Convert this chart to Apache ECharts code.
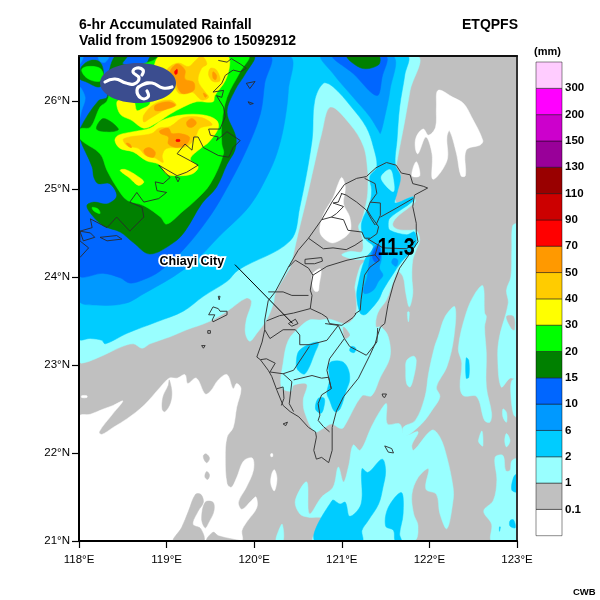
<!DOCTYPE html>
<html><head><meta charset="utf-8">
<style>html,body{margin:0;padding:0;background:#fff}#c{width:600px;height:600px}</style>
<script src="https://cdn.jsdelivr.net/npm/echarts@6/dist/echarts.min.js"></script>
</head><body><div id="c"></div>
<script>
const LON=[118,123], LAT=[21,26.51];
const lonTicks=[118,119,120,121,122,123];
const latTicks=[21,22,23,24,25,26];
const legendColors=['#ffffff','#c0c0c0','#99ffff','#00ccff','#0099ff','#0066ff','#008000','#00ff00','#ffff00','#ffcc00','#ff9900','#ff0000','#cc0000','#990000','#990099','#cc00cc','#ff00ff','#ffccff'];
const legendLabels=['','0.1','1','2','6','10','15','20','30','40','50','70','90','110','130','150','200','300',''];

const grayBase=[[[118,21],[123,21],[123,26.51],[118,26.51]]];
const whiteHoles=[
[[118,22.41],[118.13,22.44],[118.28,22.5],[118.39,22.54],[118.5,22.59],[118.39,22.45],[118.23,22.24],[118.26,22.21],[118.39,22.29],[118.55,22.39],[118.74,22.54],[118.93,22.75],[119.03,22.85],[119.12,22.85],[119.21,22.89],[119.24,22.79],[119.34,22.85],[119.44,22.67],[119.5,22.7],[119.59,22.83],[119.69,22.89],[119.76,22.73],[119.8,22.79],[119.85,22.73],[119.8,22.52],[119.76,22.29],[119.69,22.18],[119.67,21.95],[119.69,21.65],[119.74,21.61],[119.8,21.72],[119.88,21.91],[119.98,21.94],[119.99,21.8],[119.91,21.61],[119.82,21.44],[119.86,21.36],[119.97,21.46],[120.02,21.5],[120.03,21.38],[119.91,21.21],[119.86,21.12],[119.85,21],[118,21]],
[[120.23,21.81],[120.26,21.71],[120.23,21.57],[120.19,21.65],[120.2,21.76]],
[[120.19,21.99],[120.21,21.99],[120.21,21.96],[120.19,21.96]],
[[118.03,22.65],[118.09,22.65],[118.09,22.63],[118.03,22.63]],
[[122.1,26.12],[122.27,26.04],[122.39,25.97],[122.48,25.82],[122.61,25.55],[122.58,25.5],[122.42,25.44],[122.41,25.15],[122.36,25.15],[122.31,25.4],[122.23,25.66],[122.2,25.59],[122.2,25.32],[122.04,25.11],[122.03,25.4],[121.96,25.59],[121.87,25.4],[121.84,25.46],[121.85,25.59],[121.93,25.68],[121.99,25.61],[122.07,25.7],[122.08,25.93]],
[[121.8,25.15],[121.85,25.31],[121.89,25.15]],
[[121,25.13],[121.04,25.02],[121.02,24.83],[121.09,24.68],[121.09,24.51],[120.92,24.39],[120.83,24.41],[120.75,24.51],[120.79,24.71],[120.9,24.9],[120.96,25.06]],
[[120.67,24.04],[120.76,24.09],[120.74,23.9],[120.73,23.84],[120.69,23.84],[120.66,23.93]]
];
const grayIslands=[
[[119.03,22.83],[119.06,22.69],[119.04,22.56],[118.98,22.47],[118.95,22.5],[118.96,22.64],[119.02,22.77]],
[[119.45,21.99],[119.49,21.94],[119.46,21.89],[119.43,21.92],[119.42,21.97]],
[[119.46,21.79],[119.49,21.75],[119.47,21.7],[119.44,21.72],[119.44,21.76]],
[[119.08,21],[119.17,21.15],[119.25,21.34],[119.33,21.53],[119.39,21.53],[119.42,21.44],[119.36,21.34],[119.3,21.19],[119.39,21.14],[119.42,21]],
[[119.4,21.25],[119.44,21.44],[119.53,21.44],[119.54,21.34],[119.48,21.21],[119.44,21.15]],
[[119.46,21],[119.53,21.1],[119.59,21.06],[119.76,21.02],[119.85,21]]
];
const paleAreas=[
[[118,26.51],[121.85,26.51],[121.78,26.12],[121.72,25.78],[121.66,25.47],[121.62,25.25],[121.59,25.02],[121.6,24.9],[121.64,24.84],[121.81,24.91],[121.84,24.86],[121.78,24.8],[121.62,24.67],[121.58,24.59],[121.64,24.54],[121.78,24.53],[121.85,24.53],[121.89,24.42],[121.85,24.31],[121.81,24.19],[121.8,24],[121.81,23.81],[121.77,23.66],[121.73,23.82],[121.7,24],[121.64,24.06],[121.59,23.95],[121.51,23.74],[121.41,23.59],[121.39,23.43],[121.45,23.43],[121.53,23.32],[121.55,23.09],[121.44,22.86],[121.34,22.65],[121.23,22.65],[121.02,22.29],[120.98,22.28],[120.88,22.33],[120.79,22.28],[120.69,22.24],[120.58,22.45],[120.56,22.6],[120.6,22.78],[120.45,22.77],[120.42,22.7],[120.31,22.75],[120.33,23.02],[120.39,23.28],[120.52,23.43],[120.63,23.51],[120.75,23.51],[120.86,23.52],[121.06,23.47],[121.16,23.59],[121.16,23.81],[121.15,23.89],[121.21,24.12],[121.26,24.19],[121.14,24.2],[121,24.25],[121.09,24.29],[121.23,24.29],[121.23,24.46],[121.19,24.57],[121.23,24.65],[121.29,24.9],[121.3,25.1],[121.3,25.17],[121.25,25.48],[121.09,25.74],[120.87,25.93],[120.77,25.63],[120.68,25.25],[120.6,24.9],[120.5,24.49],[120.41,24.11],[120.37,24.04],[120.24,23.81],[120.22,23.7],[120.14,23.51],[120.03,23.36],[119.95,23.27],[119.9,23.36],[119.91,23.51],[119.97,23.72],[119.91,23.76],[119.69,23.61],[119.48,23.49],[119.23,23.4],[119.04,23.32],[118.81,23.24],[118.72,23.19],[118.62,23.24],[118.47,23.2],[118.28,23.11],[118.03,23.02],[118,23.08]],
[[120.47,21.46],[120.6,21.67],[120.63,21.31],[120.77,21.5],[120.9,21.61],[120.96,21.84],[121.02,21.67],[121.08,21.86],[121.13,22.09],[121.21,22.03],[121.34,22.3],[121.44,22.48],[121.51,22.56],[121.52,22.33],[121.66,22.33],[121.72,22.2],[121.87,22.24],[121.8,22.09],[121.82,22.03],[122.03,22.26],[122.12,22.18],[122.2,21.95],[122.27,21.61],[122.27,21.46],[122.2,21.14],[122.12,21.31],[122.08,21.53],[121.96,21.59],[121.99,21.82],[121.87,21.72],[121.8,21.53],[121.82,21.31],[121.87,21.17],[121.82,21],[120.68,21],[120.8,21.25],[120.72,21.27],[120.62,21.27],[120.52,21.31]],
[[122.33,23.19],[122.42,23.59],[122.52,23.81],[122.61,23.9],[122.63,23.59],[122.65,23.55],[122.63,23.43],[122.65,23.13],[122.65,22.75],[122.71,22.45],[122.69,22.35],[122.63,22.37],[122.54,22.64],[122.39,22.65],[122.35,22.75],[122.37,23.02]],
[[122.29,23.66],[122.28,23.32],[122.2,22.98],[122.08,22.75],[122.12,22.64],[122.04,22.5],[121.91,22.33],[121.72,22.19],[121.7,22.29],[121.84,22.37],[121.95,22.64],[121.99,22.9],[122.06,23.21],[122.1,23.32],[122.18,23.55]],
[[121.74,23.05],[121.82,23.1],[121.85,23.05],[121.82,22.86],[121.78,22.75],[121.74,22.79],[121.73,22.94]],
[[121.75,23.6],[121.77,23.6],[121.76,23.49]],
[[122.6,22.25],[122.61,22.08],[122.58,22.1],[122.56,22.14]],
[[122.88,22.22],[122.92,22.14],[122.88,22.07],[122.86,22.14]],
[[122.84,22.5],[122.88,22.46],[122.88,22.35],[122.84,22.41]],
[[122.95,24.58],[123,24.6],[123,22.85],[122.92,22.85],[122.82,22.75],[122.78,23.09],[122.8,23.32],[122.9,23.7],[122.88,23.85],[122.93,24],[122.94,24.3]],
[[122.94,22.82],[123,22.84],[123,22.41],[122.96,22.44],[122.93,22.67]],
[[122.75,21.95],[122.84,21.97],[122.87,21.8],[122.92,21.8],[122.94,21.91],[123,21.93],[123,21],[122.71,21],[122.71,21.19],[122.62,21.34],[122.73,21.46],[122.77,21.69]],
[[120.28,21.12],[120.32,21.19],[120.33,21],[120.25,21]]
];
const grayPatches=[
[[122.88,23.55],[122.96,23.55],[122.97,23.4],[122.94,23.41]],
[[121.02,23.43],[121.09,23.34],[121.04,23.3],[121.02,23.36]]
];
const skyAreas=[
[[118,26.51],[121.74,26.51],[121.72,26.3],[121.66,25.93],[121.63,25.55],[121.61,25.28],[121.67,25.14],[121.63,24.95],[121.61,24.84],[121.81,24.91],[121.81,24.86],[121.55,24.67],[121.53,24.59],[121.55,24.53],[121.74,24.48],[121.83,24.51],[121.85,24.38],[121.81,24.31],[121.68,24.17],[121.59,24.04],[121.47,23.85],[121.42,23.74],[121.32,23.62],[121.26,23.57],[121.21,23.59],[121.17,23.78],[121.19,23.93],[121.26,24.19],[121.36,24.34],[121.28,24.42],[121.23,24.51],[121.23,24.63],[121.32,24.84],[121.34,24.99],[121.32,25.14],[121.4,25.25],[121.36,25.48],[121.28,25.7],[121.11,25.93],[120.9,26.16],[120.79,26.2],[120.69,26],[120.66,25.55],[120.52,24.79],[120.41,24.41],[119.82,24.08],[119.69,23.95],[119.42,23.78],[119.19,23.61],[118.89,23.49],[118.55,23.36],[118.3,23.24],[118.26,23.28],[118.13,23.3],[118,23.3]],
[[120.52,23.17],[120.73,23.26],[120.69,23.13],[120.58,22.9],[120.5,22.94],[120.48,23.02]],
[[120.86,23.02],[121,23.04],[121.07,22.96],[121.09,22.83],[121.05,22.71],[120.98,22.5],[120.92,22.47],[120.86,22.6],[120.83,22.68],[120.86,22.83]],
[[120.73,22.62],[120.8,22.62],[120.79,22.5],[120.76,22.45],[120.7,22.5]],
[[121.11,23.21],[121.16,23.19],[121.14,23.14],[121.09,23.16]],
[[120.69,21],[120.89,21.46],[120.98,21.42],[121.04,21.44],[121.09,21.28],[121.22,21.42],[121.23,21.82],[121.3,21.78],[121.46,21.93],[121.5,21.8],[121.47,21.61],[121.42,21.42],[121.3,21.23],[121.23,21.12],[121.23,21]],
[[121.68,21.55],[121.7,21.31],[121.66,21.08],[121.68,21],[121.61,21],[121.59,21.12],[121.5,21.17],[121.53,21.38]],
[[122.42,23.08],[122.45,23.05],[122.45,22.86],[122.42,22.85]],
[[122.96,21.72],[123,21.76],[123,21.56],[122.94,21.58]],
[[122.92,21.23],[122.96,21.24],[122.98,21.15],[122.92,21.17]],
[[122.8,21.16],[122.81,21.16],[122.8,21.11]]
];
const paleHoles=[[[121.45,25.14],[121.55,25.22],[121.59,25.1],[121.59,24.97],[121.49,25.05]]];
const azureAreas=[
[[120.77,26.51],[121.58,26.51],[121.55,26.12],[121.49,25.82],[121.44,25.63],[121.42,25.66],[121.32,25.82],[121.13,26.04],[120.9,26.31]],
[[118,26.51],[120.39,26.51],[120.39,26.12],[120.35,25.78],[120.28,25.47],[120.18,25.21],[119.95,24.81],[119.61,24.47],[119.33,24.18],[119.19,24.08],[119.04,23.98],[118.74,23.81],[118.53,23.7],[118.2,23.68],[118,23.74]],
[[121.42,24.38],[121.45,24.29],[121.45,24.19],[121.43,24.1],[121.47,24.02],[121.42,23.95],[121.36,23.85],[121.26,23.81],[121.25,23.87],[121.29,24],[121.31,24.15],[121.35,24.31]],
[[121.59,24.21],[121.64,24.19],[121.62,24.12],[121.57,24.16]]
];
const blueAreas=[
[[118,26.51],[120.17,26.51],[120.12,26.2],[120.07,25.85],[119.91,25.44],[119.65,24.94],[119.46,24.64],[119.21,24.33],[118.93,24.07],[118.74,23.97],[118.58,23.93],[118.47,23.99],[118.28,24.04],[118,24.03]],
[[120.9,26.51],[121.13,26.31],[121.4,26.06],[121.46,26.27],[121.5,26.51]],
[[121.37,24.31],[121.42,24.36],[121.44,24.27],[121.43,24.19],[121.38,24.17],[121.35,24.23]]
];
const azurePatches=[
[[118,26.51],[118.05,26.51],[118.01,26.42]],
[[118.22,26.51],[118.34,26.51],[118.3,26.44],[118.24,26.45]],
[[118,26.16],[118.07,26.04],[118.03,25.89],[118,25.78]]
];
const dgreenAreas=[
[[118.41,26.51],[118.55,26.51],[118.5,26.42],[118.76,26.42],[118.83,26.51],[119.99,26.51],[119.9,26.31],[119.78,26.12],[119.69,25.87],[119.79,25.59],[119.78,25.44],[119.69,25.28],[119.57,25.02],[119.4,24.83],[119.21,24.52],[119.08,24.39],[118.81,24.26],[118.62,24.39],[118.47,24.51],[118.28,24.58],[118.15,24.7],[118.09,24.81],[118.17,24.85],[118.32,24.83],[118.43,24.92],[118.35,25.06],[118.22,25.06],[118.17,25.13],[118.15,25.25],[118.01,25.57],[118.01,25.68],[118.22,26],[118.32,26.04],[118.32,26.2]],
[[118.01,26.31],[118.03,26.39],[118.13,26.46],[118.24,26.44],[118.28,26.31],[118.24,26.16],[118.07,26.22],[118.01,26.25]],
[[121.06,26.51],[121.23,26.37],[121.42,26.41],[121.42,26.51]]
];
const greenAreas=[
[[118.93,26.51],[119.93,26.51],[119.84,26.33],[119.69,26.04],[119.63,25.74],[119.63,25.51],[119.65,25.4],[119.5,25.06],[119.33,24.87],[119.19,24.75],[119,24.6],[118.93,24.68],[118.74,24.81],[118.55,24.87],[118.43,25.02],[118.32,25.21],[118.24,25.4],[118.01,25.57],[118.01,25.68],[118.13,25.7],[118.24,25.93],[118.32,26],[118.43,26.31],[118.85,26.46]],
[[118.03,26.35],[118.09,26.39],[118.24,26.37],[118.28,26.27],[118.22,26.22],[118.09,26.26]],
[[118.15,24.79],[118.22,24.77],[118.24,24.72],[118.17,24.75]]
];
const dgreenPatches=[[[118.2,25.68],[118.28,25.8],[118.45,25.68],[118.36,25.65]]];
const yellowAreas=[
[[118.93,26.51],[119.69,26.51],[119.72,26.41],[119.67,26.23],[119.55,26.06],[119.53,25.99],[119.34,25.99],[119.19,25.93],[119.04,25.85],[118.87,25.74],[118.74,25.69],[118.6,25.78],[118.47,25.85],[118.44,26],[118.62,26],[118.66,25.89],[118.72,25.91],[118.81,25.97],[118.85,26.3],[118.87,26.44]],
[[118.41,25.55],[118.45,25.61],[118.62,25.65],[118.81,25.69],[118.95,25.78],[119.17,25.84],[119.42,25.84],[119.57,25.78],[119.59,25.69],[119.48,25.53],[119.4,25.47],[119.27,25.34],[119.36,25.25],[119.29,25.17],[119.12,25.15],[119,25.17],[118.91,25.28],[118.77,25.32],[118.62,25.42],[118.47,25.46]],
[[118.47,25.21],[118.53,25.22],[118.66,25.15],[118.74,25.08],[118.68,25.04],[118.57,25.13]]
];
const goldAreas=[
[[118.95,26.27],[119.04,26.39],[119.14,26.43],[119.25,26.39],[119.33,26.46],[119.4,26.51],[119.46,26.42],[119.4,26.37],[119.36,26.23],[119.44,26.1],[119.48,26.04],[119.4,26.01],[119.29,26.1],[119.15,26.08],[119.08,26.16],[119,26.12]],
[[119.5,26.37],[119.57,26.35],[119.61,26.23],[119.53,26.22],[119.48,26.29]],
[[118.87,25.97],[119.04,26.01],[119.11,25.95],[119,25.91],[118.81,25.8],[118.74,25.76],[118.74,25.84]],
[[118.51,25.57],[118.83,25.63],[118.91,25.69],[119.04,25.71],[119.19,25.81],[119.4,25.81],[119.52,25.73],[119.38,25.69],[119.33,25.59],[119.27,25.51],[119.19,25.47],[119,25.46],[118.95,25.38],[118.96,25.3],[118.87,25.35],[118.76,25.38],[118.68,25.46],[118.55,25.49]]
];
const orangeAreas=[
[[119.04,26.33],[119.12,26.42],[119.21,26.35],[119.21,26.25],[119.31,26.21],[119.31,26.12],[119.19,26.08],[119.13,26.14],[119.1,26.25]],
[[118.87,25.95],[119.02,25.99],[119.1,25.95],[118.98,25.9],[118.87,25.89]],
[[119.23,25.76],[119.29,25.8],[119.34,25.75],[119.29,25.7],[119.24,25.71]],
[[118.92,25.66],[119.02,25.69],[119.06,25.63],[119.15,25.63],[119.26,25.59],[119.23,25.51],[119.12,25.47],[119.02,25.51],[119.02,25.59],[118.93,25.63]],
[[118.74,25.44],[118.8,25.47],[118.87,25.42],[118.85,25.36],[118.77,25.38]],
[[118.54,25.52],[118.58,25.51],[118.6,25.47],[118.57,25.48]],
[[119.53,26.33],[119.57,26.29],[119.56,26.24],[119.53,26.26]],
[[119.42,26.09],[119.46,26.06],[119.44,26.04]]
];
const redAreas=[
[[119.09,26.33],[119.12,26.36],[119.12,26.31],[119.1,26.3]],
[[119.11,25.56],[119.15,25.56],[119.15,25.54],[119.11,25.54]]
];

const taiwanCoast=[[120.12,23.51],[120.16,23.73],[120.24,23.83],[120.39,24.11],[120.5,24.3],[120.62,24.44],[120.77,24.65],[120.9,24.87],[121.03,25.05],[121.17,25.12],[121.28,25.14],[121.39,25.24],[121.51,25.3],[121.62,25.27],[121.68,25.18],[121.78,25.16],[121.81,25.06],[121.93,25.03],[121.98,25.01],[121.83,24.93],[121.81,24.8],[121.85,24.61],[121.85,24.51],[121.87,24.4],[121.83,24.34],[121.66,24.1],[121.59,23.92],[121.53,23.7],[121.49,23.47],[121.44,23.43],[121.41,23.34],[121.38,23.24],[121.32,23.11],[121.19,22.85],[121.02,22.64],[120.94,22.48],[120.89,22.29],[120.89,22.03],[120.85,21.89],[120.77,21.95],[120.71,21.93],[120.68,22.03],[120.71,22.18],[120.7,22.24],[120.62,22.29],[120.51,22.41],[120.41,22.47],[120.33,22.54],[120.26,22.71],[120.2,22.87],[120.16,22.94],[120.07,23.06],[120.03,23.09],[120.09,23.26],[120.12,23.4],[120.12,23.51]];
const countyBorders=[
[[120.99,24.95],[121.05,24.93],[121.17,24.85],[121.28,24.76],[121.34,24.65],[121.38,24.59]],
[[121.26,25.12],[121.38,25.06],[121.4,24.95],[121.32,24.84],[121.29,24.76],[121.34,24.68],[121.42,24.57],[121.4,24.49],[121.3,24.42]],
[[121.32,24.85],[121.44,24.84],[121.44,24.7],[121.39,24.59]],
[[121.44,24.68],[121.62,24.78],[121.81,24.89]],
[[121,24.95],[120.96,24.85],[120.9,24.84],[121.02,24.8],[120.94,24.72],[120.88,24.68],[120.77,24.65]],
[[120.88,24.68],[121.02,24.65],[121.07,24.53],[121.23,24.51],[121.26,24.44],[121.32,24.44]],
[[120.62,24.44],[120.79,24.32],[120.9,24.33],[121.05,24.31],[121.15,24.36],[121.24,24.42]],
[[121.3,24.43],[121.47,24.33],[121.74,24.32],[121.84,24.41]],
[[120.83,24.12],[121.06,24.19],[121.26,24.23],[121.38,24.25],[121.42,24.38]],
[[121.38,24.25],[121.43,24.19],[121.32,24.11],[121.26,24.02],[121.24,23.89],[121.22,23.74],[121.21,23.62],[121.15,23.58]],
[[120.39,24.11],[120.47,24.19],[120.62,24.1],[120.67,24.02],[120.83,24.12]],
[[120.58,24.2],[120.77,24.22],[120.78,24.18],[120.69,24.15],[120.58,24.15],[120.58,24.2]],
[[120.67,24.02],[120.64,23.85],[120.66,23.79],[120.64,23.64],[120.77,23.58],[120.83,23.54],[120.86,23.47],[121,23.45],[121.13,23.54],[121.16,23.58]],
[[120.16,23.83],[120.33,23.83],[120.43,23.79],[120.62,23.79]],
[[120.14,23.5],[120.29,23.56],[120.45,23.59],[120.64,23.64]],
[[120.39,23.47],[120.47,23.52],[120.5,23.47],[120.43,23.44],[120.39,23.47]],
[[120.12,23.4],[120.18,23.3],[120.33,23.4],[120.47,23.4],[120.52,23.34],[120.52,23.23],[120.64,23.23],[120.83,23.28],[120.96,23.45],[120.81,23.47]],
[[120.07,23.06],[120.14,23.07],[120.24,23.02],[120.18,22.92],[120.33,22.9],[120.45,22.94],[120.63,23.21]],
[[120.45,22.83],[120.66,22.88],[120.77,22.85],[120.85,22.86],[120.88,22.73],[120.77,22.66],[120.73,22.56],[120.75,22.43],[120.73,22.37],[120.79,22.3],[120.86,22.24]],
[[120.33,22.9],[120.43,22.81],[120.4,22.56],[120.45,22.47]],
[[120.88,22.73],[120.83,22.94],[120.86,23.07],[121.03,23.3],[121.09,23.21],[121.28,23.11],[121.4,23.26],[121.41,23.42]],
[[121.03,23.3],[120.96,23.45]],
[[120.26,22.73],[120.33,22.75],[120.34,22.62],[120.31,22.54]]
];
const islands=[
[[120.33,22.33],[120.38,22.35],[120.36,22.31],[120.33,22.33]],
[[121.46,22.67],[121.51,22.67],[121.49,22.63],[121.47,22.64],[121.46,22.67]],
[[121.49,22.08],[121.57,22.05],[121.59,22],[121.53,22.01],[121.49,22.08]],
[[119.48,23.57],[119.53,23.66],[119.59,23.64],[119.61,23.61],[119.69,23.61],[119.69,23.57],[119.61,23.53],[119.53,23.49],[119.52,23.51],[119.55,23.57],[119.48,23.57]],
[[119.47,23.39],[119.5,23.39],[119.5,23.36],[119.47,23.36],[119.47,23.39]],
[[119.4,23.22],[119.44,23.22],[119.42,23.19],[119.4,23.22]],
[[119.59,23.78],[119.61,23.78],[119.6,23.74],[119.59,23.78]],
[[119.91,26.2],[120.01,26.22],[119.95,26.14],[119.91,26.2]],
[[119.93,25.99],[119.99,25.97],[119.95,25.96],[119.93,25.99]],
[[118.24,24.45],[118.43,24.47],[118.49,24.43],[118.32,24.41],[118.24,24.45]],
[[118.01,24.52],[118.13,24.5],[118.18,24.45],[118.05,24.41],[118.01,24.52]],
[[119.1,25.14],[119.15,25.12],[119.13,25.08],[119.1,25.14]]
];
const fujianCoast=[[119.59,26.46],[119.69,26.44],[119.74,26.48],[119.84,26.42],[119.91,26.37],[119.84,26.33],[119.76,26.35],[119.67,26.29],[119.63,26.2],[119.53,26.1],[119.65,26.12],[119.63,26.04],[119.57,26.06],[119.65,25.93],[119.67,25.82],[119.61,25.68],[119.48,25.68],[119.5,25.61],[119.59,25.59],[119.57,25.55],[119.69,25.65],[119.84,25.55],[119.76,25.47],[119.71,25.36],[119.59,25.38],[119.42,25.47],[119.36,25.59],[119.31,25.59],[119.29,25.44],[119.21,25.51],[119.12,25.4],[119.27,25.32],[119.36,25.27],[119.23,25.19],[119.12,25.15],[118.91,25.27],[118.98,25.19],[119.04,25.13],[118.96,25.06],[118.87,25.08],[118.89,24.98],[119,24.96],[118.91,24.89],[118.74,24.85],[118.66,24.96],[118.58,24.85],[118.72,24.79],[118.74,24.68],[118.58,24.52],[118.43,24.68],[118.32,24.56],[118.13,24.66],[118.15,24.56],[118.01,24.52],[118.01,24.41],[118.11,24.33],[118.01,24.22]];
const leaderLine=[[119.78,24.14],[120.44,23.47]];
const cityLabel={name:'Chiayi City',lon:118.92,lat:24.17};
const maxLabel={value:'11.3',lon:121.62,lat:24.32};

const chart=echarts.init(document.getElementById('c'),null,{renderer:'canvas'});
const GX=79,GY=56,GW=438,GH=485;
function area(polys,color,sm){
  return {type:'custom',coordinateSystem:'cartesian2d',xAxisIndex:0,yAxisIndex:0,clip:true,silent:true,
    data:polys.map((_,i)=>[i]),encode:{},
    renderItem:(p,api)=>({type:'polygon',shape:{points:polys[p.dataIndex].map(c=>api.coord(c)),smooth:sm===undefined?0.35:sm},style:{fill:color,stroke:color,lineWidth:0.5}})};
}
function lines(list,color,w){
  return {type:'custom',coordinateSystem:'cartesian2d',xAxisIndex:0,yAxisIndex:0,clip:true,silent:true,
    data:list.map((_,i)=>[i]),encode:{},
    renderItem:(p,api)=>({type:'polyline',shape:{points:list[p.dataIndex].map(c=>api.coord(c))},style:{fill:null,stroke:color,lineWidth:w}})};
}
function label(o,text,font,halo,sx){
  return {type:'custom',coordinateSystem:'cartesian2d',xAxisIndex:0,yAxisIndex:0,clip:false,silent:true,z:8,
    data:[[0]],encode:{},
    renderItem:(p,api)=>{const c=api.coord([o.lon,o.lat]);return {type:'text',x:c[0],y:c[1],scaleX:sx||1,style:{text:text,font:font,fill:'#000',align:halo?'left':'center',verticalAlign:'middle',stroke:halo?'#fff':null,lineWidth:halo?3.5:0}};}};
}
const legendSeries={type:'custom',coordinateSystem:'cartesian2d',xAxisIndex:2,yAxisIndex:2,clip:false,silent:true,
  data:legendColors.map((_,i)=>[i]),encode:{},
  renderItem:(p,api)=>{const a=api.coord([0,p.dataIndex+1]),b=api.coord([1,p.dataIndex]);
    return {type:'rect',shape:{x:a[0],y:a[1],width:b[0]-a[0],height:b[1]-a[1]},style:{fill:legendColors[p.dataIndex],stroke:'rgba(0,0,0,0.45)',lineWidth:1}};}};

const txt=(t,x,y,font,extra)=>Object.assign({type:'text',x:x,y:y,z:20,style:{text:t,font:font,fill:'#000',verticalAlign:'middle'}},extra||{});
const F='"Liberation Sans",Arial,sans-serif';
const swirl=pts=>({type:'polyline',z:16,shape:{points:pts,smooth:0.5},style:{fill:null,stroke:'#fff',lineWidth:3.2,lineCap:'round'}});
chart.setOption({
  animation:false,
  backgroundColor:'#fff',
  grid:[{left:GX,top:GY,width:GW,height:GH,show:false},
        {left:GX,top:GY,width:GW,height:GH,show:false},
        {left:536,top:62,width:26,height:473.7,show:false}],
  xAxis:[
    {gridIndex:0,type:'value',min:LON[0],max:LON[1],interval:1,position:'bottom',z:10,splitLine:{show:false},
     axisLine:{show:true,onZero:false,lineStyle:{color:'#000',width:2}},axisTick:{show:true,length:7,lineStyle:{color:'#000',width:1.2}},
     axisLabel:{formatter:v=>v+'°E',fontFamily:'Liberation Sans',fontSize:11.5,color:'#000',margin:13}},
    {gridIndex:1,type:'value',min:LON[0],max:LON[1],position:'top',z:10,splitLine:{show:false},
     axisLine:{show:true,onZero:false,lineStyle:{color:'#111',width:2}},axisTick:{show:false},axisLabel:{show:false}},
    {gridIndex:2,type:'value',min:0,max:1,show:false}
  ],
  yAxis:[
    {gridIndex:0,type:'value',min:LAT[0],max:LAT[1],interval:1,position:'left',z:10,splitLine:{show:false},
     axisLine:{show:true,onZero:false,lineStyle:{color:'#000',width:2}},
     axisTick:{show:true,length:7,lineStyle:{color:'#000',width:1.2},customValues:latTicks},
     axisLabel:{customValues:latTicks,formatter:v=>v+'°N',fontFamily:'Liberation Sans',fontSize:11.5,color:'#000',margin:9}},
    {gridIndex:1,type:'value',min:LAT[0],max:LAT[1],position:'right',z:10,splitLine:{show:false},
     axisLine:{show:true,onZero:false,lineStyle:{color:'#333',width:2}},axisTick:{show:false},axisLabel:{show:false}},
    {gridIndex:2,type:'value',min:0,max:18,interval:1,position:'right',splitLine:{show:false},
     axisLine:{show:false},axisTick:{show:false},
     axisLabel:{formatter:v=>legendLabels[v]||'',fontFamily:'Liberation Sans',fontWeight:'bold',fontSize:11.5,color:'#000',margin:3,align:'left'}}
  ],
  series:[
    area(grayBase,'#c0c0c0',0),area(whiteHoles,'#ffffff'),area(grayIslands,'#c0c0c0'),
    area(paleAreas,'#99ffff'),area(grayPatches,'#c0c0c0'),area(skyAreas,'#00ccff'),area(paleHoles,'#99ffff'),
    area(azureAreas,'#0099ff'),area(blueAreas,'#0066ff'),area(azurePatches,'#0099ff'),
    area(dgreenAreas,'#008000'),area(greenAreas,'#00ff00'),area(dgreenPatches,'#008000'),
    area(yellowAreas,'#ffff00'),area(goldAreas,'#ffcc00'),area(orangeAreas,'#ff9900'),area(redAreas,'#ff0000'),
    lines([fujianCoast],'#2a2a2a',0.9),lines(islands,'#2a2a2a',0.9),lines(countyBorders,'#3a3a3a',1),lines([taiwanCoast],'#3a3a3a',1),
    lines([leaderLine],'#000',1),
    label(cityLabel,cityLabel.name,'bold 12.5px '+F,true),
    label(maxLabel,maxLabel.value,'bold 24px '+F,false,0.82),
    legendSeries
  ],
  graphic:[
    txt('6-hr Accumulated Rainfall',79,25,'bold 14px '+F),
    txt('Valid from 15092906 to 15092912',79,41,'bold 14px '+F),
    txt('ETQPFS',462,25,'bold 14px '+F),
    txt('(mm)',534,52,'bold 11px '+F),
    txt('CWB',573,592,'bold 9.5px '+F),
    {type:'ellipse',z:15,shape:{cx:138,cy:83,rx:38,ry:20},style:{fill:'#3b4d8f'}},
    swirl([[105,82],[115,79],[126,83],[134,84],[139,78],[133,72],[137,68],[143,70],[142,75]]),
    swirl([[172,87],[163,88],[152,83],[142,85],[137,90],[141,98],[148,97],[147,91]])
  ]
});
</script></body></html>
